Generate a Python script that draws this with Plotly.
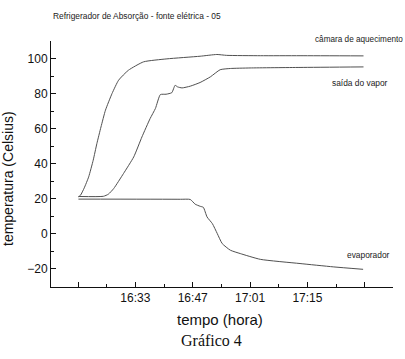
import plotly.graph_objects as go

# time in minutes after 16:00
camara_t = [19.1, 19.6, 20.5, 21.6, 22.7, 23.6, 24.6, 25.7, 27.3, 28.9, 31.3, 35.0, 40.7, 48.8, 52.9, 55.3, 63.5, 73.2, 88.7]
camara_v = [21.0, 21.9, 26.0, 32.4, 41.9, 51.4, 60.9, 70.5, 80.0, 87.6, 93.3, 98.1, 99.8, 101.3, 102.3, 101.8, 101.6, 101.6, 101.5]

vapor_t = [19.1, 25.2, 26.4, 27.7, 30.1, 32.6, 34.6, 36.6, 37.9, 39.1, 40.5, 41.9, 42.7, 43.3, 44.4, 46.4, 48.8, 51.3, 53.7, 56.2, 61.0, 73.2, 88.7]
vapor_v = [21.2, 21.3, 22.5, 25.7, 34.3, 43.8, 55.2, 65.7, 71.5, 79.4, 79.6, 80.5, 84.7, 83.8, 83.2, 84.2, 86.3, 89.5, 93.6, 94.3, 94.6, 94.9, 95.2]

evap_t = [19.1, 44.0, 46.4, 47.6, 48.8, 49.6, 50.5, 51.8, 53.0, 54.2, 56.2, 58.6, 63.5, 73.2, 81.3, 88.6]
evap_v = [19.7, 19.6, 19.5, 16.8, 15.6, 15.0, 9.5, 5.7, 0.0, -5.7, -9.5, -11.4, -14.7, -17.1, -19.0, -20.4]

x_tickvals = [19, 33, 47, 61, 75, 89]
x_ticktext = ["", "16:33", "16:47", "17:01", "17:15", ""]
y_tickvals = [-20, 0, 20, 40, 60, 80, 100]

W, H = 405, 359
ML, MR, MT, MB = 51, 12, 41, 72
NARROW = "Liberation Sans Narrow, Arial Narrow, Liberation Sans, Arial, sans-serif"
SANS = "Liberation Sans, Arial, sans-serif"

def px(x):
    return (x - ML) / (W - ML - MR)

def py(y):
    return (H - MB - y) / (H - MT - MB)

fig = go.Figure()
line = dict(color="#505050", width=1, shape="spline", smoothing=0.5)
for t, v in [(camara_t, camara_v), (vapor_t, vapor_v), (evap_t, evap_v)]:
    fig.add_trace(go.Scatter(x=t, y=v, mode="lines", line=line, showlegend=False, hoverinfo="skip"))

anns = [
    dict(text="Refrigerador de Absorção - fonte elétrica - 05", x=px(51), y=py(16), xanchor="left", yanchor="middle",
         font=dict(family=NARROW, size=8.4, color="#222")),
    dict(text="câmara de aquecimento", x=px(313), y=py(40), xanchor="left", yanchor="middle",
         font=dict(family=NARROW, size=8.2, color="#222")),
    dict(text="saída do vapor", x=px(330), y=py(83), xanchor="left", yanchor="middle",
         font=dict(family=NARROW, size=8.4, color="#222")),
    dict(text="evaporador", x=px(345), y=py(255), xanchor="left", yanchor="middle",
         font=dict(family=NARROW, size=8.4, color="#222")),
    dict(text="temperatura (Celsius)", x=px(8), y=py(179), textangle=-90, xanchor="center", yanchor="middle",
         font=dict(family=SANS, size=14, color="#111")),
    dict(text="tempo (hora)", x=px(220), y=py(319), xanchor="center", yanchor="middle",
         font=dict(family=SANS, size=15, color="#111")),
    dict(text="Gráfico 4", x=px(211), y=py(340), xanchor="center", yanchor="middle",
         font=dict(family="Liberation Serif, Times New Roman, serif", size=16, color="#111")),
]
for a in anns:
    a.update(xref="paper", yref="paper", showarrow=False)

fig.update_layout(
    width=W, height=H,
    margin=dict(l=ML, r=MR, t=MT, b=MB, pad=0),
    paper_bgcolor="white", plot_bgcolor="white",
    annotations=anns,
    xaxis=dict(range=[12.4, 95.9], tickvals=x_tickvals, ticktext=x_ticktext,
               ticks="inside", ticklen=5, tickcolor="#111", showline=True, linecolor="#111", linewidth=1,
               showgrid=False, zeroline=False,
               minor=dict(tickvals=[26, 40, 54, 68, 82], ticks="inside", ticklen=3, tickcolor="#111", showgrid=False),
               tickfont=dict(family=SANS, size=12, color="#111")),
    yaxis=dict(range=[-30.5, 110], tickvals=y_tickvals,
               ticks="inside", ticklen=5, tickcolor="#111", showline=True, linecolor="#111", linewidth=1,
               showgrid=False, zeroline=False,
               minor=dict(tickvals=[-10, 10, 30, 50, 70, 90, 110], ticks="inside", ticklen=3, tickcolor="#111", showgrid=False),
               tickfont=dict(family=SANS, size=12, color="#111")),
)

fig.write_html("out.html", config={"displayModeBar": False, "staticPlot": True},
               post_script="document.body.style.margin='0';")
